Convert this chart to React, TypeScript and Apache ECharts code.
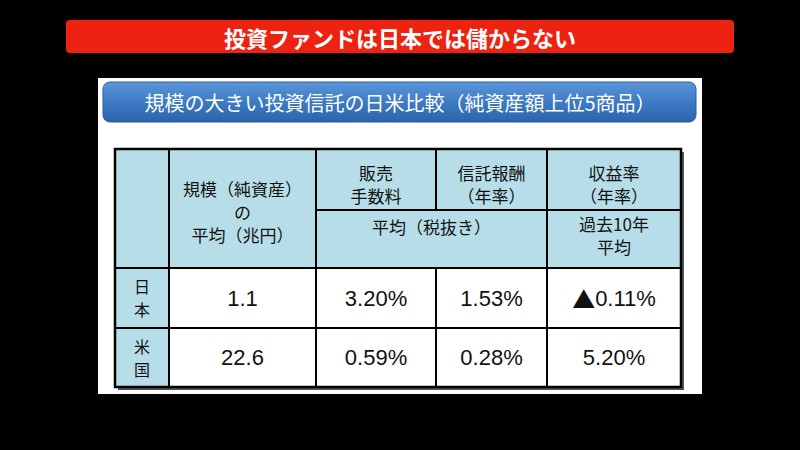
import React, { useEffect, useRef } from "react";
import * as echarts from "echarts";

const bannerTitle = "投資ファンドは日本では儲からない";
const tableTitle = "規模の大きい投資信託の日米比較（純資産額上位5商品）";
const headerMain = [
  ["規模（純資産）", "の", "平均（兆円）"],
  ["販売", "手数料"],
  ["信託報酬", "（年率）"],
  ["収益率", "（年率）"],
];
const headerSub = [["平均（税抜き）"], ["過去10年", "平均"]];
const countries = [["日", "本"], ["米", "国"]];
const netAssets = [1.1, 22.6];
const salesFee = [3.2, 0.59];
const trustFee = [1.53, 0.28];
const annualReturn = [-0.11, 5.2];

const CJK = "'Noto Sans CJK JP', 'Noto Sans', sans-serif";
const NUM = "'Liberation Sans', 'Noto Sans CJK JP', sans-serif";

const pct = (v: number) => (v < 0 ? "{t|▲}" : "") + Math.abs(v).toFixed(2) + "%";

export default function App() {
  const ref = useRef<HTMLDivElement>(null);
  useEffect(() => {
    if (!ref.current) return;
    const chart = echarts.init(ref.current, undefined, { renderer: "svg" });
    const colX = [115, 169, 316, 436, 547, 681];
    const rowY = [149, 210, 268, 328, 387];
    const els: any[] = [];
    const LB = "#b7dee8";
    els.push({ type: "rect", shape: { x: 0, y: 0, width: 800, height: 450 }, style: { fill: "#000" } });
    els.push({ type: "rect", shape: { x: 66, y: 20, width: 668, height: 33, r: 4 }, style: { fill: "#ee2211" } });
    els.push({ type: "text", x: 400, y: 36.5, style: { text: bannerTitle, fill: "#fff", font: `bold 22px ${CJK}`, textAlign: "center", textVerticalAlign: "middle" } });
    els.push({ type: "rect", shape: { x: 98, y: 78, width: 604, height: 316 }, style: { fill: "#fff" } });
    els.push({
      type: "rect",
      shape: { x: 103, y: 82, width: 593, height: 40, r: 7 },
      style: {
        fill: new echarts.graphic.LinearGradient(0, 0, 0, 1, [
          { offset: 0, color: "#5b96da" },
          { offset: 0.5, color: "#3d7bc4" },
          { offset: 1, color: "#2c64aa" },
        ]),
        stroke: "#2a5d9e",
        lineWidth: 1,
      },
    });
    els.push({ type: "text", x: 400, y: 102.5, style: { text: tableTitle, fill: "#fff", font: `20px ${CJK}`, textAlign: "center", textVerticalAlign: "middle" } });
    els.push({ type: "rect", shape: { x: colX[0] + 3, y: rowY[0] + 3, width: colX[5] - colX[0], height: rowY[4] - rowY[0] }, style: { fill: "#555" } });
    els.push({ type: "rect", shape: { x: colX[0], y: rowY[0], width: colX[5] - colX[0], height: rowY[4] - rowY[0] }, style: { fill: "#fff" } });
    els.push({ type: "rect", shape: { x: colX[0], y: rowY[0], width: colX[5] - colX[0], height: rowY[2] - rowY[0] }, style: { fill: LB } });
    els.push({ type: "rect", shape: { x: colX[0], y: rowY[2], width: colX[1] - colX[0], height: rowY[4] - rowY[2] }, style: { fill: LB } });
    const ln = (x1: number, y1: number, x2: number, y2: number, w = 2) =>
      els.push({ type: "line", shape: { x1, y1, x2, y2 }, style: { stroke: "#000", lineWidth: w } });
    [0, 1, 2, 4, 5].forEach((i) => ln(colX[i], rowY[0] - 1, colX[i], rowY[4] + 1, i === 0 || i === 5 ? 2.5 : 2));
    ln(colX[3], rowY[0], colX[3], rowY[1]);
    ln(colX[3], rowY[2], colX[3], rowY[4]);
    ln(colX[0] - 1, rowY[0], colX[5] + 1, rowY[0], 2.5);
    ln(colX[2], rowY[1], colX[5], rowY[1]);
    ln(colX[0], rowY[2], colX[5], rowY[2]);
    ln(colX[0], rowY[3], colX[5], rowY[3]);
    ln(colX[0] - 1, rowY[4], colX[5] + 1, rowY[4], 2.5);
    const txt = (lines: string[], x: number, y: number, font: string, lh: number) =>
      els.push({
        type: "text",
        x,
        y,
        style: {
          text: lines.join("\n"),
          fill: "#111",
          font,
          lineHeight: lh,
          textAlign: "center",
          textVerticalAlign: "middle",
          rich: { t: { font: `23px ${CJK}`, fill: "#111" } },
        },
      });
    const HF = `17px ${CJK}`;
    headerMain.forEach((lines, i) => {
      const cx = (colX[i + 1] + colX[i + 2]) / 2;
      if (i === 0) txt(lines, cx, 211, HF, 23);
      else txt(lines, cx, 183.5, HF, 23);
    });
    txt(headerSub[0], (colX[2] + colX[4]) / 2, 226, HF, 23);
    txt(headerSub[1], (colX[4] + colX[5]) / 2, 234.5, HF, 23);
    const NF = `22px ${NUM}`;
    countries.forEach((lab, r) => {
      const cy = (rowY[r + 2] + rowY[r + 3]) / 2;
      txt(lab, (colX[0] + colX[1]) / 2, cy - 0.5, `16px ${CJK}`, 23);
      txt([netAssets[r].toFixed(1)], (colX[1] + colX[2]) / 2, cy, NF, 26);
      txt([pct(salesFee[r])], (colX[2] + colX[3]) / 2, cy, NF, 26);
      txt([pct(trustFee[r])], (colX[3] + colX[4]) / 2, cy, NF, 26);
      txt([pct(annualReturn[r])], (colX[4] + colX[5]) / 2, cy, NF, 26);
    });
    chart.setOption({ animation: false, graphic: { elements: els } });
    return () => chart.dispose();
  }, []);
  return (
    <div
      ref={ref}
      style={{ position: "fixed", left: 0, top: 0, width: 800, height: 450, background: "#000" }}
    />
  );
}
